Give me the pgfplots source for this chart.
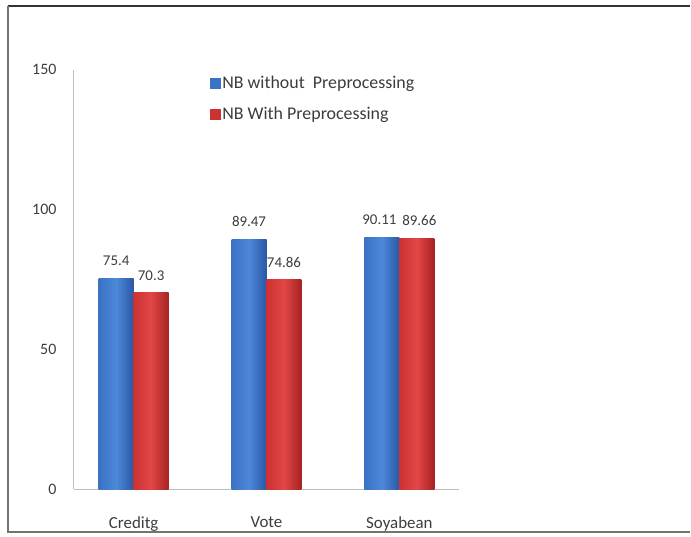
\documentclass[border=0pt]{standalone}
\usepackage{pgfplots}
\pgfplotsset{compat=1.18}
\usepackage{fontspec}
\setmainfont{Carlito}
\definecolor{bluemid}{RGB}{78,136,216}
\definecolor{bluedark}{RGB}{40,88,165}
\definecolor{bluelight}{RGB}{58,114,198}
\definecolor{redmid}{RGB}{226,70,70}
\definecolor{reddark}{RGB}{168,34,34}
\definecolor{redlight}{RGB}{204,50,50}
\definecolor{axgray}{RGB}{190,190,190}
\definecolor{txt}{RGB}{60,60,60}
\pgfplotsset{
  bluebar/.style={forget plot, draw=none, bar shift=-17.5bp, left color=bluelight, right color=bluedark, middle color=bluemid},
  redbar/.style={forget plot, draw=none, bar shift=17.5bp, left color=redlight, right color=reddark, middle color=redmid},
}
\begin{document}
\begin{tikzpicture}[x=1bp,y=1bp]
\path (-74,-47) rectangle (617,490);
\draw[line width=2.5bp, black!80] (-66,484) -- (617,484);
\draw[line width=1.2bp, black!55] (-66,484) -- (-66,-43) -- (617,-43);
\begin{axis}[
  at={(0bp,0bp)}, anchor=south west,
  scale only axis, width=386bp, height=420bp,
  xmin=-0.45, xmax=2.45, ymin=0, ymax=150,
  axis x line*=bottom, axis y line*=left,
  axis line style={axgray, line width=0.8bp, -},
  major tick length=0pt,
  xtick={0,1,2}, xticklabels={Creditg,Vote,Soyabean},
  ytick={0,50,100,150},
  /pgf/number format/assume math mode=true,
  yticklabel style={font=\fontsize{16}{18}\selectfont, text=txt, xshift=-14bp},
  xticklabel style={font=\fontsize{17}{19}\selectfont, text=txt, yshift=-24bp},
  ybar, bar width=35bp,
  nodes near coords,
  point meta=explicit symbolic,
  every node near coord/.append style={font=\fontsize{15}{17}\selectfont, text=txt, yshift=9bp, inner xsep=0pt},
  legend style={at={(0.345,0.995)}, anchor=north west, draw=none, fill=none,
    font=\fontsize{18}{20}\selectfont, text=txt, row sep=13bp},
  legend cell align=left,
]
\addplot[bluebar] coordinates {(0,75.4) [75.4]};
\addplot[bluebar] coordinates {(1,89.47) [89.47]};
\addplot[bluebar, every node near coord/.append style={xshift=-2.5bp}] coordinates {(2,90.11) [90.11]};
\addplot[redbar] coordinates {(0,70.3) [70.3]};
\addplot[redbar] coordinates {(1,74.86) [74.86]};
\addplot[redbar, every node near coord/.append style={xshift=2.5bp}] coordinates {(2,89.66) [89.66]};
\addlegendimage{legend image code/.code={\fill[bluelight] (0bp,-5bp) rectangle (10bp,5bp);}}
\addlegendentry{NB without\ \ Preprocessing}
\addlegendimage{legend image code/.code={\fill[redlight] (0bp,-5bp) rectangle (10bp,5bp);}}
\addlegendentry{NB With Preprocessing}
\end{axis}
\end{tikzpicture}
\end{document}
